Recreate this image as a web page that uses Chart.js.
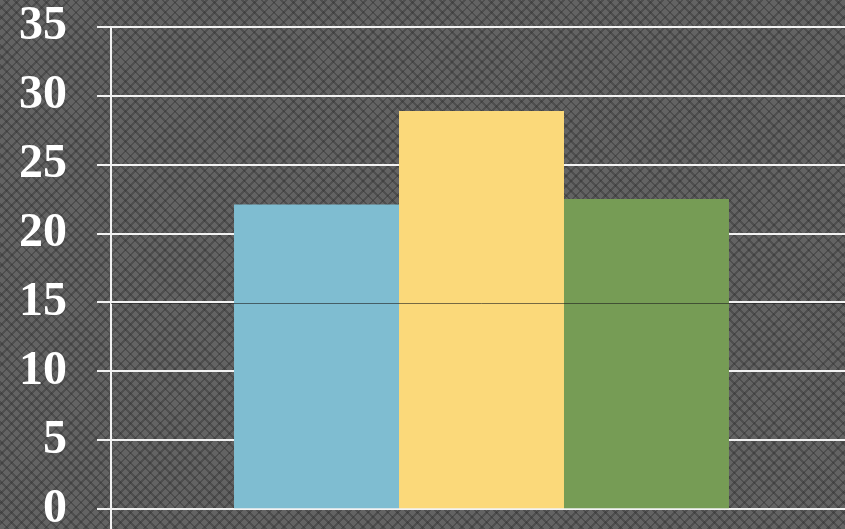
<!DOCTYPE html>
<html>
<head>
<meta charset="utf-8">
<script src="https://cdn.jsdelivr.net/npm/chart.js@4"></script>
<style>
  html, body { margin: 0; padding: 0; overflow: hidden; }
  body {
    width: 845px; height: 529px;
    background-color: #636363;
    background-image:
      repeating-linear-gradient(45deg, transparent 0 5px, rgba(40,40,40,0.35) 5px 7px),
      repeating-linear-gradient(-45deg, transparent 0 5px, rgba(40,40,40,0.35) 5px 7px);
  }
  #wrap { position: absolute; left: -11px; top: -32px; width: 863px; height: 600px; }
</style>
</head>
<body>
<div id="wrap"><canvas id="barChart"></canvas></div>
<script>
const categories = [''];
const seriesNames = ['A', 'B', 'C'];
const seriesValues = [[22.1], [28.9], [22.5]];
const seriesColors = ['#7fbdd1', '#fbd97a', '#769c55'];
const yTicks = [0, 5, 10, 15, 20, 25, 30, 35];
const markLine = 15;

// dark line over bars at 15
const overLine = {
    id: 'overLine',
    afterDatasetsDraw(chart) {
        const { ctx, chartArea, scales } = chart;
        const y = Math.round(scales.y.getPixelForValue(markLine)) + 1.5;
        ctx.save();
        ctx.strokeStyle = 'rgba(30,30,30,0.6)';
        ctx.lineWidth = 1;
        ctx.beginPath();
        ctx.moveTo(chartArea.left, y);
        ctx.lineTo(chartArea.right, y);
        ctx.stroke();
        ctx.restore();
    }
};

const ctx = document.getElementById('barChart').getContext('2d');
const chart = new Chart(ctx, {
    type: 'bar',
    data: {
        labels: categories,
        datasets: seriesNames.map((n, i) => ({
            label: n,
            data: seriesValues[i],
            backgroundColor: seriesColors[i],
            borderWidth: 0,
            barPercentage: 1,
            categoryPercentage: 0.668
        }))
    },
    options: {
        responsive: true,
        maintainAspectRatio: false,
        animation: false,
        layout: { padding: 0 },
        plugins: {
            legend: { display: false },
            tooltip: { enabled: false }
        },
        scales: {
            x: {
                ticks: { display: false },
                grid: { color: '#f2f2f2', lineWidth: 2, drawOnChartArea: false, drawTicks: true, tickLength: 40 },
                border: { display: false }
            },
            y: {
                min: 0,
                max: 35,
                afterBuildTicks: axis => { axis.ticks = yTicks.map(v => ({ value: v })); },
                ticks: {
                    color: '#ffffff',
                    padding: 30,
                    font: { family: '"Liberation Serif", "DejaVu Serif", serif', size: 48, weight: 'bold' }
                },
                grid: { color: '#f2f2f2', lineWidth: 2, tickLength: 14 },
                border: { display: true, color: '#f2f2f2', width: 2 }
            }
        }
    },
    plugins: [overLine]
});
</script>
</body>
</html>
